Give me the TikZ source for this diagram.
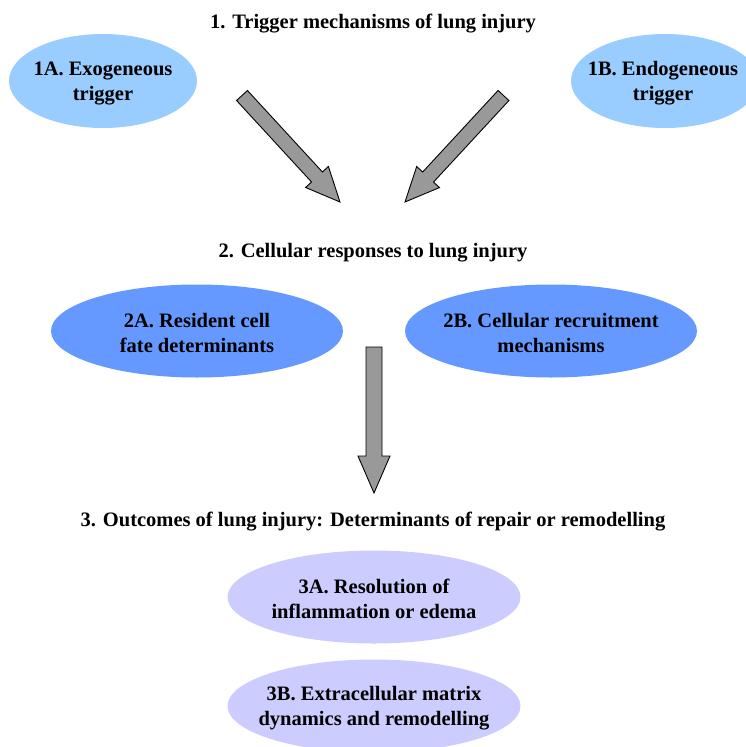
\documentclass[tikz,border=0pt]{standalone}
\usepackage{fontspec}
\setmainfont{Liberation Serif}
\usetikzlibrary{shapes.geometric,calc}
\definecolor{lightblue}{RGB}{153,204,255}
\definecolor{midblue}{RGB}{102,153,255}
\definecolor{lavender}{RGB}{204,204,255}
\definecolor{arrowgray}{RGB}{153,153,153}
\tikzset{
  txt/.style={font=\fontsize{20.5}{25}\selectfont\bfseries, align=center, inner sep=0pt, yshift=-2pt},
  blob/.style={ellipse, draw=none, inner sep=0pt, minimum width=#1},
  blockarrow/.style={fill=arrowgray, draw=black, line width=0.9pt, line join=miter},
}
\newcommand{\blockarr}[5]{% tail, tip, half shaft, half head, head length
  \coordinate (hb) at ($(#2)!#5!(#1)$);
  \draw[blockarrow] ($(#1)!#3!90:(#2)$) -- ($(hb)!#3!90:(#2)$) -- ($(hb)!#4!90:(#2)$) -- (#2)
    -- ($(hb)!#4!-90:(#2)$) -- ($(hb)!#3!-90:(#2)$) -- ($(#1)!#3!-90:(#2)$) -- cycle;
}
\begin{document}
\begin{tikzpicture}[x=1pt,y=-1pt]
\useasboundingbox (0,0) rectangle (746,747);
\begin{scope}
\clip (0,0) rectangle (746,747);
% titles
\node[txt] (title1) at (373,22) {1. Trigger mechanisms of lung injury};
\node[txt] (title2) at (373,251) {2. Cellular responses to lung injury};
\node[txt] (title3) at (373,520) {3. Outcomes of lung injury: Determinants of repair or remodelling};
% level 1
\node[blob=188pt, minimum height=94pt, fill=lightblue] (e1A) at (103,81) {};
\node[txt] (t1A) at (e1A) {1A. Exogeneous\\trigger};
\node[blob=188pt, minimum height=94pt, fill=lightblue] (e1B) at (665,81) {};
\node[txt] (t1B) at (663,81) {1B. Endogeneous\\trigger};
% level 2
\node[blob=292pt, minimum height=93pt, fill=midblue] (e2A) at (197,331) {};
\node[txt] (t2A) at (e2A) {2A. Resident cell\\fate determinants};
\node[blob=292pt, minimum height=93pt, fill=midblue] (e2B) at (551,331) {};
\node[txt] (t2B) at (e2B) {2B. Cellular recruitment\\mechanisms};
% level 3
\node[blob=293pt, minimum height=93pt, fill=lavender] (e3A) at (374,597) {};
\node[txt] (t3A) at (e3A) {3A. Resolution of\\inflammation or edema};
\node[blob=293pt, minimum height=93pt, fill=lavender] (e3B) at (374,706) {};
\node[txt] (t3B) at (e3B) {3B. Extracellular matrix\\dynamics and remodelling};
% arrows
\coordinate (aLs) at (242,95.5);
\coordinate (aLe) at (340,202);
\coordinate (aRs) at (503.5,95.5);
\coordinate (aRe) at (405,202);
\coordinate (aVs) at (374,347);
\coordinate (aVe) at (374,493);
\blockarr{aLs}{aLe}{7.4pt}{15.5pt}{34pt}
\blockarr{aRs}{aRe}{7.4pt}{15.5pt}{34pt}
\blockarr{aVs}{aVe}{8pt}{16pt}{37pt}
\end{scope}
\end{tikzpicture}
\end{document}
